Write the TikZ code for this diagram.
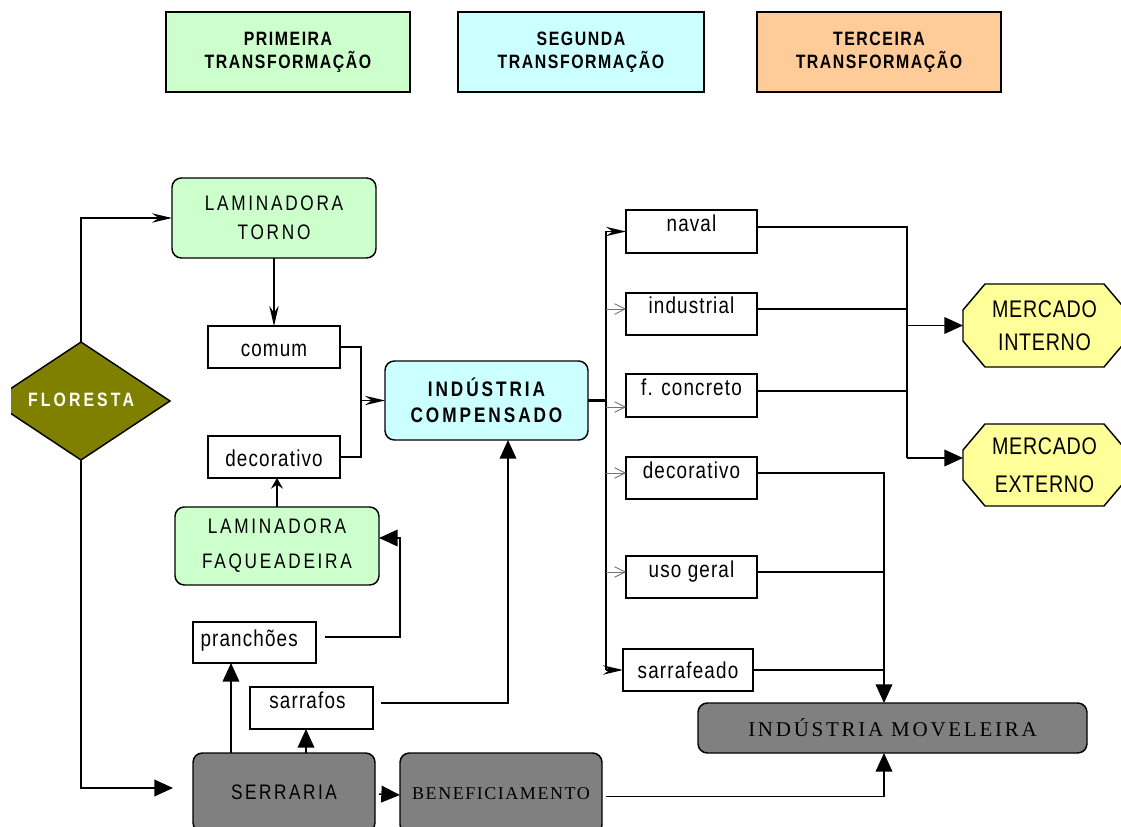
\documentclass[tikz,border=0pt]{standalone}
\usepackage{fontspec}
\setmainfont{Liberation Sans}
\newfontfamily\nar[FakeStretch=0.82]{Liberation Sans}
\newfontfamily\ser{Liberation Serif}
\usetikzlibrary{arrows.meta,shapes.geometric,calc}
\definecolor{grn}{HTML}{CCFFCC}
\definecolor{cyn}{HTML}{CCFFFF}
\definecolor{org}{HTML}{FFCC99}
\definecolor{yel}{HTML}{FFFF99}
\definecolor{gry}{HTML}{808080}
\definecolor{olv}{HTML}{808000}
\newcommand\bx[7]{\node[#6, minimum width={(#4-#2)*0.75pt}, minimum height={(#5-#3)*0.75pt}] (#1) at ({(#2+#4)/2},{(#3+#5)/2}) {#7};}
\newcommand\octo[4]{\draw[fill=yel, line width=1.1pt] (#1,#2+26) -- (#1+22,#2) -- (#3-22,#2) -- (#3,#2+26) -- (#3,#4-26) -- (#3-22,#4) -- (#1+22,#4) -- (#1,#4-26) -- cycle;}
\begin{document}
\begin{tikzpicture}[x=0.75pt,y=-0.75pt,
 base/.style={draw, line width=1.1pt, inner sep=0pt, outer sep=0pt},
 rbox/.style={base, rounded corners=7pt, align=center},
 sbox/.style={base, fill=white, text depth=0pt, font=\nar\fontsize{17.25}{20}\selectfont\addfontfeatures{LetterSpace=5}},
 legend/.style={base, align=center, font=\nar\bfseries\fontsize{14.5}{17.25}\selectfont\addfontfeatures{LetterSpace=8}},
 lam/.style={rbox, fill=grn, font=\nar\fontsize{15.75}{21.75}\selectfont\addfontfeatures{LetterSpace=13}},
 comp/.style={rbox, fill=cyn, font=\nar\bfseries\fontsize{15.75}{19.5}\selectfont\addfontfeatures{LetterSpace=14}},
 merc/.style={inner sep=0pt, outer sep=0pt, align=center, font=\nar\fontsize{18}{24.75}\selectfont\addfontfeatures{LetterSpace=3}},
 serrs/.style={rbox, fill=gry, font=\nar\fontsize{15.75}{20}\selectfont\addfontfeatures{LetterSpace=12}},
 movs/.style={rbox, fill=gry, font=\ser\fontsize{15.75}{20}\selectfont\addfontfeatures{LetterSpace=13}},
 bens/.style={rbox, fill=gry, font=\ser\fontsize{13.5}{16}\selectfont\addfontfeatures{LetterSpace=8.5}},
 conn/.style={line width=1.1pt},
 tri/.style={conn, -{Triangle[length=14pt,width=12.5pt]}},
 stl/.style={conn, -{Stealth[length=15pt,width=7pt,inset=5pt]}},
 stlsmall/.style={conn, -{Stealth[length=8pt,width=9pt,inset=3pt]}},
 barb/.style={line width=0.6pt, black!55, -{Straight Barb[length=8pt,width=8pt]}},
]
\useasboundingbox (0,0) rectangle (1121,827);
\clip (0,0) rectangle (1121,827);

% legend
\bx{l1}{166}{12}{410}{92}{legend,fill=grn}{PRIMEIRA\\TRANSFORMAÇÃO}
\bx{l2}{458}{12}{704}{92}{legend,fill=cyn}{SEGUNDA\\TRANSFORMAÇÃO}
\bx{l3}{757}{12}{1001}{92}{legend,fill=org}{TERCEIRA\\TRANSFORMAÇÃO}

% floresta
\begin{scope}
\clip (11,0) rectangle (300,827);
\node[diamond, draw, fill=olv, line width=1.1pt, inner sep=0pt, outer sep=0pt, aspect=1.5,
  minimum width={178*0.75pt}, minimum height={118*0.75pt}, text=white,
  font=\nar\bfseries\fontsize{14.5}{16}\selectfont\addfontfeatures{LetterSpace=16}]
  (flor) at (81,401) {\makebox[0pt]{\raisebox{2pt}{FLORESTA}}};
\end{scope}

% left column
\bx{torno}{172}{178}{376}{258}{lam}{LAMINADORA\\TORNO}
\bx{comum}{208}{326}{340}{368}{sbox,text height=13.5pt}{comum}
\bx{decl}{208}{436}{340}{478}{sbox,text height=13.5pt}{decorativo}
\bx{faq}{175}{507}{379}{585}{lam,font=\nar\fontsize{15.75}{26.25}\selectfont\addfontfeatures{LetterSpace=13}}{LAMINADORA\\FAQUEADEIRA}
\bx{comp}{385}{361}{588}{440}{comp}{INDÚSTRIA\\COMPENSADO}
\bx{pran}{193}{622}{316}{663}{sbox,text height=5.25pt}{\hspace*{-8pt}pranchões}
\bx{sarf}{250}{687}{373}{729}{sbox,text height=0pt}{\hspace*{-6pt}sarrafos}
\bx{serr}{193}{753}{375}{832}{serrs}{SERRARIA}
\bx{benef}{400}{753}{602}{834}{bens}{BENEFICIAMENTO}

% right column
\bx{naval}{626}{210}{757}{253}{sbox,text height=0pt}{naval}
\bx{indu}{626}{293}{757}{335}{sbox,text height=0pt}{industrial}
\bx{conc}{626}{374}{757}{417}{sbox,text height=0pt}{f. concreto}
\bx{decr}{626}{457}{757}{499}{sbox,text height=0pt}{decorativo}
\bx{uso}{626}{556}{757}{598}{sbox,text height=0pt}{uso geral}
\bx{sarr}{623}{649}{753}{691}{sbox,text height=12pt}{sarrafeado}
\bx{mov}{698}{703}{1087}{753}{movs}{INDÚSTRIA MOVELEIRA}

\octo{963}{284}{1126}{367}
\bx{mi}{963}{284}{1126}{367}{merc}{MERCADO\\INTERNO}
\octo{963}{424}{1126}{506}
\bx{me}{963}{424}{1126}{506}{merc,font=\nar\fontsize{18}{28.5}\selectfont\addfontfeatures{LetterSpace=3}}{MERCADO\\EXTERNO}

% connectors left
\draw[stl] (flor.north) |- (torno.west);
\draw[tri] (flor.south) |- ($(serr.west)+(-20,-4.5)$);
\draw[stl] (torno.south) -- (comum.north);
\coordinate (jn) at (361,400.5);
\draw[conn] (comum.east) -| (jn) |- (decl.east);
\draw[stl] (jn) -- (comp.west);
\draw[stlsmall] (faq.north) -- (faq.north |- decl.south);
\path (pran.south) ++(-23.5,0) coordinate (pa);
\draw[tri] (serr.north -| pa) -- (pa);
\path (sarf.south) ++(-5.5,0) coordinate (sa);
\draw[tri] (serr.north -| sa) -- (sa);
\draw[tri] ($(pran.east)+(9,-5.5)$) -- ++(75,0) |- ($(faq.east)+(0,-8)$);
\draw[tri] ($(sarf.east)+(8,-5)$) -| ($(comp.south)+(21.5,0)$);
\draw[tri] ($(serr.east)+(4,1.5)$) -- ($(benef.west)+(0,1.5)$);

% bus
\coordinate (btop) at (606,231.5);
\coordinate (bbot) at (606,670);
\draw[line width=2pt] (comp.east) -- (comp.east -| btop);
\draw[conn] (btop) -- (bbot);
\draw[stl] (btop) -- (naval.west);
\draw[stl] (bbot) -- (sarr.west);
\path (indu.west) ++(0,-5) coordinate (t1);
\draw[barb] (t1 -| btop) -- (t1);
\path (conc.west) ++(0,11.5) coordinate (t2);
\draw[barb] (t2 -| btop) -- (t2);
\path (decr.west) ++(0,-5) coordinate (t3);
\draw[barb] (t3 -| btop) -- (t3);
\path (uso.west) ++(0,-5) coordinate (t4);
\draw[barb] (t4 -| btop) -- (t4);

% markets
\coordinate (rjI) at (907,325.5);
\coordinate (rjE) at (907,458);
\draw[conn] ($(naval.east)+(0,-4.5)$) -| (rjE);
\draw[conn] ($(indu.east)+(0,-5)$) -- ++(150,0);
\draw[conn] ($(conc.east)+(0,-4.5)$) -- ++(150,0);
\draw[tri] (rjI) -- (mi.west);
\draw[tri] (rjE) -- (rjE -| me.west);

% moveleira
\coordinate (mtop) at ($(mov.north)+(-8.5,0)$);
\draw[tri] ($(decr.east)+(0,-5)$) -| (mtop);
\path (uso.east) ++(0,-5) coordinate (u1);
\draw[conn] (u1) -- (u1 -| mtop);
\draw[conn] (sarr.east) -- (sarr.east -| mtop);
\draw[tri] ($(benef.east)+(4,3)$) -| (mov.south -| mtop);
\end{tikzpicture}
\end{document}
